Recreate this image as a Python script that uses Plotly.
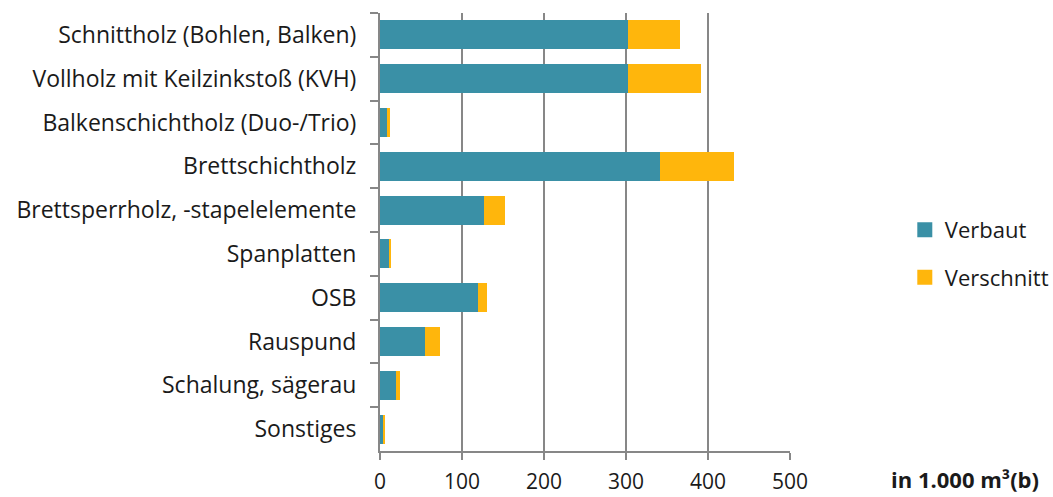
import plotly.graph_objects as go

# Holzprodukte im Holzbau, in 1.000 m³(b)
kategorien = [
    "Schnittholz (Bohlen, Balken)",
    "Vollholz mit Keilzinkstoß (KVH)",
    "Balkenschichtholz (Duo-/Trio)",
    "Brettschichtholz",
    "Brettsperrholz, -stapelelemente",
    "Spanplatten",
    "OSB",
    "Rauspund",
    "Schalung, sägerau",
    "Sonstiges",
]
verbaut = [302, 303, 9, 341, 127, 11, 119, 55, 19, 4]
verschnitt = [64, 89, 3, 91, 26, 1.5, 12, 18, 5, 1.5]
x_ticks = [0, 100, 200, 300, 400, 500]

FONT = "Open Sans, Liberation Sans, sans-serif"
GRID = "#878787"
TEAL = "#3A90A6"
GOLD = "#FFB60C"

fig = go.Figure()
fig.add_trace(go.Bar(
    y=kategorien, x=verbaut, orientation="h", name="Verbaut",
    marker=dict(color=TEAL, line=dict(width=0)), showlegend=False,
))
fig.add_trace(go.Bar(
    y=kategorien, x=verschnitt, orientation="h", name="Verschnitt",
    marker=dict(color=GOLD, line=dict(width=0)), showlegend=False,
))
# legend entries with square swatches
for name, color, grp in [("Verbaut", TEAL, "a"), ("Verschnitt", GOLD, "b")]:
    fig.add_trace(go.Scatter(
        x=[None], y=[None], mode="markers", name=name, legendgroup=grp,
        marker=dict(symbol="square", size=15, color=color),
    ))

fig.update_layout(
    width=1053, height=497,
    margin=dict(l=380, r=263, t=13, b=46, autoexpand=False),
    barmode="stack",
    bargap=0.34,
    plot_bgcolor="white",
    paper_bgcolor="white",
    font=dict(family=FONT, size=22, color="#1a1a1a"),
    showlegend=True,
    legend=dict(
        x=1.28, y=0.45, xanchor="left", yanchor="middle",
        traceorder="grouped", tracegroupgap=16,
        font=dict(size=22), itemwidth=30,
    ),
    xaxis=dict(
        range=[0, 500], tickvals=x_ticks, ticktext=[str(v) for v in x_ticks],
        showgrid=True, gridcolor=GRID, gridwidth=2,
        zeroline=False, showline=True, linecolor=GRID, linewidth=2,
        ticks="outside", ticklen=7, tickcolor=GRID, tickwidth=2,
        ticklabelstandoff=4, tickfont=dict(size=21), automargin=False,
    ),
    yaxis=dict(
        categoryorder="array", categoryarray=kategorien,
        autorange="reversed",
        showline=True, linecolor=GRID, linewidth=2,
        ticks="outside", ticklen=8, tickcolor=GRID, tickwidth=2,
        tickson="boundaries", ticklabelstandoff=17,
        showgrid=False, tickfont=dict(size=23), automargin=False,
    ),
    annotations=[dict(
        text="<b>in 1.000 m³(b)</b>", xref="paper", yref="paper",
        x=1.0, xanchor="left", xshift=99, y=0, yanchor="top", yshift=-11,
        showarrow=False, font=dict(size=22, family=FONT, color="#1a1a1a"),
    )],
)

fig.write_html("out.html")
